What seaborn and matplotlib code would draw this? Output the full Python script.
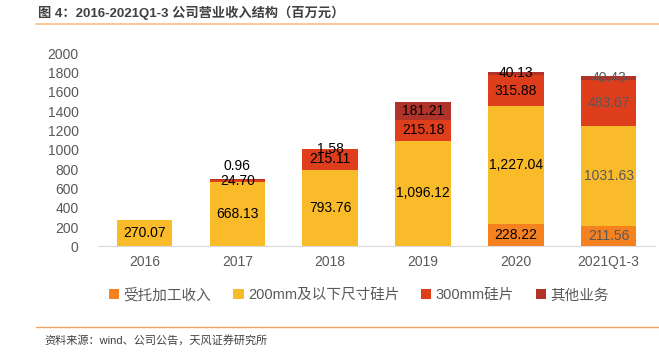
import numpy as np
import pandas as pd
import matplotlib.pyplot as plt
import seaborn as sns
from matplotlib.patches import Patch
from matplotlib.lines import Line2D

# ---- data (百万元) ----
years = ["2016", "2017", "2018", "2019", "2020", "2021Q1-3"]
processing = [0, 0, 0, 0, 228.22, 211.56]          # 受托加工收入
wafer_200 = [270.07, 668.13, 793.76, 1096.12, 1227.04, 1031.63]  # 200mm及以下尺寸硅片
wafer_300 = [0, 24.70, 215.11, 215.18, 315.88, 483.67]           # 300mm硅片
other = [0, 0.96, 1.58, 181.21, 40.13, 40.43]                    # 其他业务

lbl_processing = ["", "", "", "", "228.22", "211.56"]
lbl_200 = ["270.07", "668.13", "793.76", "1,096.12", "1,227.04", "1031.63"]
lbl_300 = ["", "24.70", "215.11", "215.18", "315.88", "483.67"]
lbl_other = ["", "0.96", "1.58", "181.21", "40.13", "40.43"]

series_names = ["受托加工收入", "200mm及以下尺寸硅片", "300mm硅片", "其他业务"]
colors = ["#F5821F", "#F9BB2A", "#DE3E1C", "#B0332A"]

sns.set_style("white")
plt.rcParams['font.family'] = ['Liberation Sans', 'Noto Sans CJK SC', 'DejaVu Sans']

df = pd.DataFrame({"year": years, "p": processing, "w200": wafer_200,
                   "w300": wafer_300, "o": other})
df["c1"] = df["p"]
df["c2"] = df["c1"] + df["w200"]
df["c3"] = df["c2"] + df["w300"]
df["c4"] = df["c3"] + df["o"]

fig = plt.figure(figsize=(6.59, 3.53), dpi=100)
ax = fig.add_axes([0.149, 0.302, 0.845, 0.547])

# overlay cumulative bars from top layer down
for col, c in zip(["c4", "c3", "c2", "c1"], colors[::-1]):
    sns.barplot(data=df, x="year", y=col, color=c, width=0.6, saturation=1,
                order=years, ax=ax, linewidth=0)

ax.set_ylim(0, 2000)
ax.set_yticks(np.arange(0, 2001, 200))
ax.set_xlim(-0.5, len(years) - 0.5)
ax.set_xlabel("")
ax.set_ylabel("")
sns.despine(ax=ax, left=True)
ax.spines["bottom"].set_color("#D9D9D9")
ax.tick_params(axis="both", length=0, labelsize=10, colors="#595959", pad=6)
ax.tick_params(axis="y", pad=14)

# data labels
layers = [(df["p"], df["c1"] - df["p"], lbl_processing),
          (df["w200"], df["c1"], lbl_200),
          (df["w300"], df["c2"], lbl_300),
          (df["o"], df["c3"], lbl_other)]
for li, (vals, base, labels) in enumerate(layers):
    for i, (v, b, t) in enumerate(zip(vals, base, labels)):
        if not t:
            continue
        color = "#595959" if i == len(years) - 1 else "black"
        dy = 10 if (li == 3 and i == 1) else 0
        ax.annotate(t, (i, b + v / 2), xytext=(0, dy), textcoords="offset points",
                    ha="center", va="center", fontsize=10, color=color)

handles = [Patch(facecolor=c, edgecolor="none") for c in colors]
fig.legend(handles, series_names, loc="center", bbox_to_anchor=(0.545, 0.164),
           ncol=4, frameon=False, fontsize=10.5, handlelength=0.7, handleheight=0.7,
           handletextpad=0.3, columnspacing=1.5, labelcolor="#595959")

# header / footer
fig.text(0.058, 0.965, "图 4：2016-2021Q1-3 公司营业收入结构（百万元）", fontsize=9.5,
         fontweight="bold", color="#404040", va="center", ha="left")
fig.add_artist(Line2D([0.055, 1.0], [0.932, 0.932], color="#F9C491", lw=1.3))
fig.add_artist(Line2D([0.055, 1.0], [0.074, 0.074], color="#F4A460", lw=1.0))
fig.text(0.068, 0.037, "资料来源：wind、公司公告，天风证券研究所", fontsize=8,
         color="#404040", va="center", ha="left")

fig.savefig("out.png", dpi=100)
